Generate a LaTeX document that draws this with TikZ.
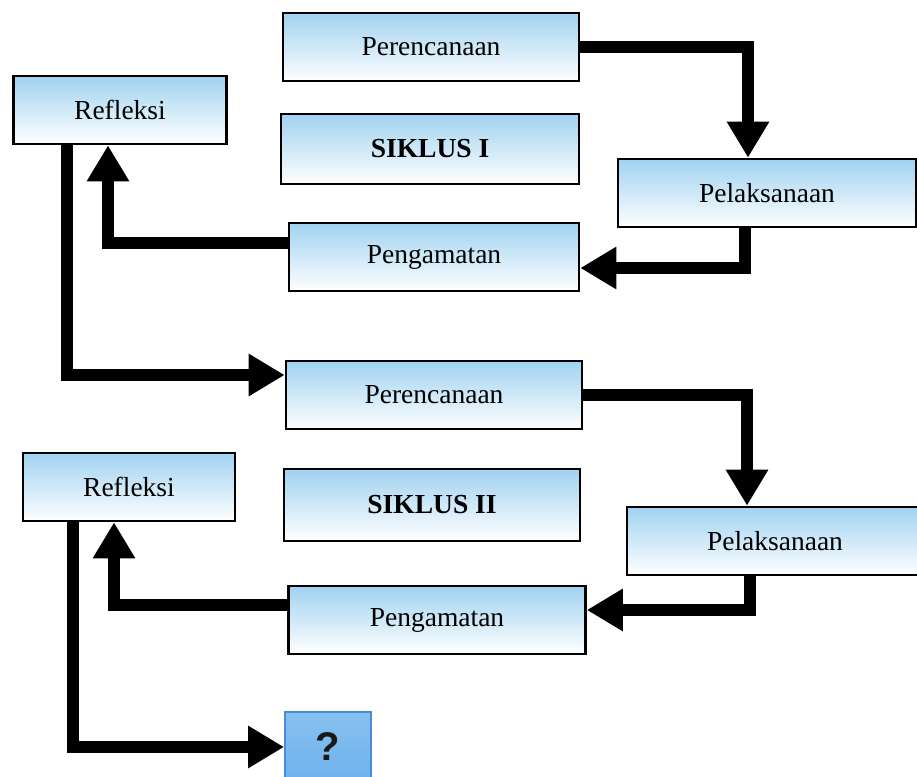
\documentclass[tikz,border=0pt]{standalone}
\usepackage{fontspec}
\setmainfont{Liberation Serif}
\newfontfamily\qfont{Liberation Sans}
\usetikzlibrary{arrows.meta, positioning, calc}
\definecolor{boxblue}{RGB}{160,210,240}
\definecolor{qtop}{RGB}{135,192,240}
\definecolor{qbottom}{RGB}{110,178,236}
\definecolor{qborder}{RGB}{70,140,215}

\begin{document}
\begin{tikzpicture}[x=1pt, y=-1pt, stage/.style={draw, line width=2.6pt,
      top color=boxblue, bottom color=white, minimum height=68pt, inner sep=0pt,
      font=\fontsize{27.5pt}{32pt}\selectfont}, cyclelabel/.style={stage,
      font=\fontsize{27.5pt}{32pt}\selectfont\bfseries}, flowarrow/.style={line
      width=12pt, line join=miter, -{Triangle[width=40pt, length=36pt]}},
      unknown/.style={draw=qborder, line width=1.8pt, top color=qtop, bottom
      color=qbottom, minimum width=86pt, minimum height=70pt, inner sep=0pt,
      font=\qfont\fontsize{40pt}{44pt}\selectfont\bfseries, text=black!90} ]
    \useasboundingbox (0,0) rectangle (917,776);

    % Siklus I
    \node[stage, minimum width=296pt] (perA) at (431,47) {Perencanaan};
    \node[cyclelabel, minimum width=298pt, minimum height=70pt] (sikA) at
    (430,149) {SIKLUS I}; \node[stage, minimum width=213pt] (refA) at (120,110)
    {Refleksi}; \node[stage, minimum width=298pt] (pelA) at (767,193)
    {Pelaksanaan}; \node[stage, minimum width=290pt] (pengA) at (434,257)
    {Pengamatan};

    % Siklus II
    \node[stage, minimum width=296pt] (perB) at (434,395) {Perencanaan};
    \node[stage, minimum width=212pt] (refB) at (129,487) {Refleksi};
    \node[cyclelabel, minimum width=296pt, minimum height=72pt] (sikB) at
    (432,505) {SIKLUS II}; \node[stage, minimum width=296pt] (pelB) at
    (775,541) {Pelaksanaan}; \node[stage, minimum width=297pt] (pengB) at
    (437,620) {Pengamatan};

    % Next step
    \node[unknown] (quest) at (328,747) {?};

    % Arrows of siklus I
    \draw[flowarrow] (perA.east) -| ([xshift=-19pt]pelA.north);
    \draw[flowarrow] ([xshift=-22pt]pelA.south) |- ([yshift=-11pt]pengA.east);
    \draw[flowarrow] ([yshift=14pt]pengA.west) -| ([xshift=-12pt]refA.south);
    \draw[flowarrow] ([xshift=-53pt]refA.south) |- ([yshift=20pt]perB.west);

    % Arrows of siklus II
    \draw[flowarrow] (perB.east) -| ([xshift=-28pt]pelB.north);
    \draw[flowarrow] ([xshift=-25pt]pelB.south) |- ([yshift=10pt]pengB.east);
    \draw[flowarrow] ([yshift=15pt]pengB.west) -| ([xshift=-15pt]refB.south);
    \draw[flowarrow] ([xshift=-56pt]refB.south) |- (quest.west);

    \end{tikzpicture}
\end{document}
